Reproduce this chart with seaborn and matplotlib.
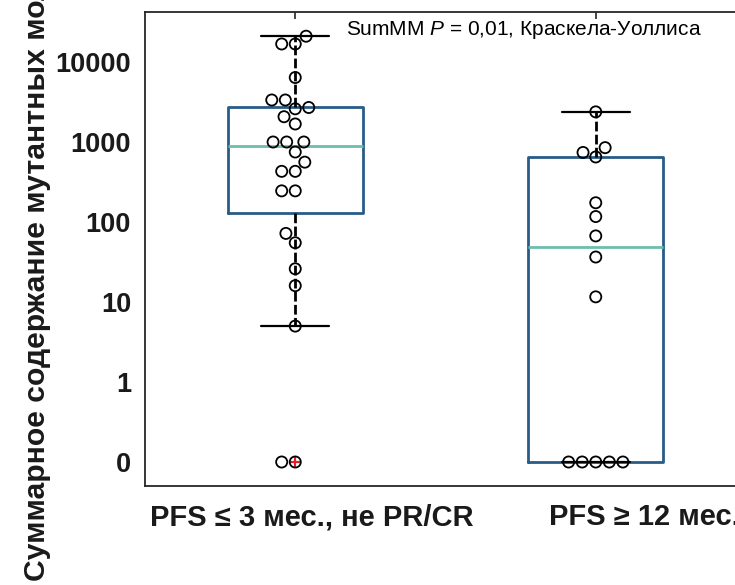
import numpy as np
import pandas as pd
import matplotlib
matplotlib.use("Agg")
import matplotlib.pyplot as plt
from matplotlib import transforms
import seaborn as sns

# ---- data -----------------------------------------------------------------
categories = ["PFS ≤ 3 мес., не PR/CR", "PFS ≥ 12 мес."]

# summed mutant molecule counts per patient
group1_values = [21000, 16800, 16800, 6400, 3350, 3350, 2700, 2600, 2070, 1680,
                 1000, 1000, 1000, 750, 560, 430, 430, 245, 245,
                 72, 55, 26, 16, 5, 0, 0]
group2_values = [2380, 850, 740, 650, 174, 117, 67, 36.5, 11.6,
                 0, 0, 0, 0, 0]

# box summaries (computed on the log scale)
whisker_low = [5, 0]
q1 = [131, 0]
median = [884, 48.7]
q3 = [2716, 655]
whisker_high = [21000, 2380]
outliers = [[0, 0], []]

ytick_values = [0, 1, 10, 100, 1000, 10000]
ytick_labels = ["0", "1", "10", "100", "1000", "10000"]

annotation = "SumMM $\\it{P}$ = 0,01, Краскела-Уоллиса"
ylabel = "Суммарное содержание мутантных молекул"

# ---- style ----------------------------------------------------------------
sns.set_theme(style="white")
plt.rcParams["font.family"] = ["Liberation Sans", "DejaVu Sans"]
plt.rcParams["mathtext.fontset"] = "custom"
plt.rcParams["mathtext.rm"] = "Liberation Sans"
plt.rcParams["mathtext.it"] = "Liberation Sans:italic"

BOX = "#285c88"
MEDIAN = "#6dbdac"
INK = "#1a1a1a"

fig = plt.figure(figsize=(7.35, 5.85), dpi=100)
fig.patch.set_facecolor("white")
# the axes run slightly past the right edge of the canvas
ax = fig.add_axes([145 / 735, 1 - 486 / 585, 601 / 735, 474 / 585])


# zero gets its own decade below 1
def to_decades(v):
    v = np.asarray(v, dtype=float)
    out = np.full(v.shape, -1.0)
    pos = v > 0
    out[pos] = np.log10(v[pos])
    return out


def from_decades(u):
    return np.power(10.0, np.asarray(u, dtype=float))


ax.set_yscale("function", functions=(to_decades, from_decades))

df = pd.DataFrame({
    "group": [categories[0]] * len(group1_values) + [categories[1]] * len(group2_values),
    "value": group1_values + group2_values,
})

sns.swarmplot(data=df, x="group", y="value", order=categories, ax=ax,
              size=8, color="black", edgecolor="black", linewidth=1.3)
for coll in ax.collections:
    coll.set_facecolor("none")

stats = [dict(med=median[i], q1=q1[i], q3=q3[i], whislo=whisker_low[i],
              whishi=whisker_high[i], fliers=outliers[i]) for i in range(len(categories))]
ax.bxp(stats, positions=[0, 1], widths=0.45, capwidths=0.225, showfliers=True,
       manage_ticks=False,
       boxprops=dict(color=BOX, linewidth=2.0),
       medianprops=dict(color=MEDIAN, linewidth=2.0),
       whiskerprops=dict(color="black", linewidth=2.0, linestyle=(0, (3.5, 1.2))),
       capprops=dict(color="black", linewidth=1.6),
       flierprops=dict(marker="+", markeredgecolor="#e3202a", markersize=7,
                       markeredgewidth=1.5, linestyle="none"))

ax.set_xticks([0, 1])
ax.set_xticklabels(["", ""])
ax.set_xlabel("")
ax.set_yticks(ytick_values)
ax.set_yticklabels(ytick_labels, fontsize=19.5, fontweight="bold", color=INK)
ax.minorticks_off()
ax.tick_params(axis="both", which="both", direction="in", length=5, width=1.2,
               color="#262626", top=True, right=True)
ax.tick_params(axis="y", pad=10)
for s in ax.spines.values():
    s.set_visible(True)
    s.set_color("#262626")
    s.set_linewidth(1.3)

# limits last so the tick setup cannot widen them
ax.set_xlim(-0.5, 1.5)
ax.set_ylim(from_decades(-1.3), from_decades(4.625))

# category names under the axis
label_trans = transforms.blended_transform_factory(ax.transData, ax.transAxes)
for name, xl in zip(categories, [-0.485, 0.844]):
    ax.text(xl, -0.036, name, transform=label_trans, ha="left", va="top",
            fontsize=21, fontweight="bold", color=INK, clip_on=False)

ax.set_ylabel(ylabel, fontsize=21.7, fontweight="bold", color=INK, loc="bottom")
ax.yaxis.set_label_coords(-0.156, -0.2)

ax.text(0.334, 0.9515, annotation, transform=ax.transAxes, ha="left",
        va="baseline", fontsize=15, color="black")

fig.savefig("out.png", dpi=100, facecolor="white")
